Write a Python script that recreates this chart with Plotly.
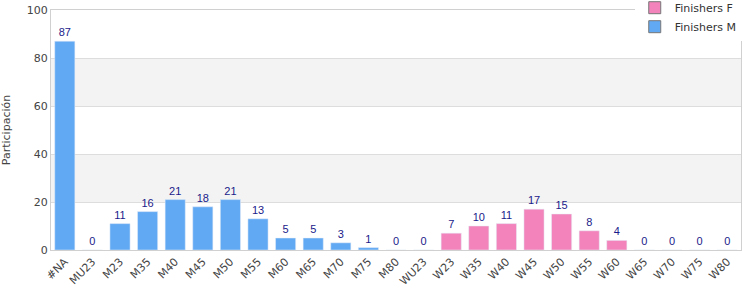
import plotly.graph_objects as go

categories = ["#NA", "MU23", "M23", "M35", "M40", "M45", "M50", "M55", "M60", "M65",
              "M70", "M75", "M80", "WU23", "W23", "W35", "W40", "W45", "W50", "W55",
              "W60", "W65", "W70", "W75", "W80"]
male_values = [87, 0, 11, 16, 21, 18, 21, 13, 5, 5, 3, 1, 0, None, None, None, None,
               None, None, None, None, None, None, None, None]
female_values = [None, None, None, None, None, None, None, None, None, None, None, None,
                 None, 0, 7, 10, 11, 17, 15, 8, 4, 0, 0, 0, 0]
y_ticks = [0, 20, 40, 60, 80, 100]

blue = "#62a9f4"
pink = "#f283bb"
label_color = "#1a1a8a"

fig = go.Figure()
fig.add_trace(go.Bar(x=categories, y=male_values, name="Finishers M", marker_color=blue,
                     text=[("" if v is None else str(v)) for v in male_values],
                     textposition="outside", cliponaxis=False, showlegend=False,
                     textfont=dict(color=label_color, size=11, family="Liberation Sans, Arial")))
fig.add_trace(go.Bar(x=categories, y=female_values, name="Finishers F", marker_color=pink,
                     text=[("" if v is None else str(v)) for v in female_values],
                     textposition="outside", cliponaxis=False, showlegend=False,
                     textfont=dict(color=label_color, size=11, family="Liberation Sans, Arial")))
# legend-only entries
fig.add_trace(go.Bar(x=[None], y=[None], name="Finishers F",
                     marker=dict(color=pink, line=dict(color="#777", width=1)), legendrank=1))
fig.add_trace(go.Bar(x=[None], y=[None], name="Finishers M",
                     marker=dict(color=blue, line=dict(color="#777", width=1)), legendrank=2))

for y0, y1 in [(20, 40), (60, 80)]:
    fig.add_shape(type="rect", xref="paper", yref="y", x0=0, x1=1, y0=y0, y1=y1,
                  fillcolor="#f3f3f3", line_width=0, layer="below")

fig.update_layout(
    width=750, height=300,
    margin=dict(l=51, r=9, t=10, b=50, autoexpand=False),
    barmode="overlay", bargap=0.27,
    plot_bgcolor="white", paper_bgcolor="white",
    font=dict(family="DejaVu Sans, Arial", size=11, color="#444"),
    legend=dict(x=0.846, xanchor="left", y=1.07, yanchor="top",
                bgcolor="white", borderwidth=0, font=dict(size=11, color="#333"),
                tracegroupgap=0, itemwidth=30, traceorder="normal"),
)
fig.update_yaxes(range=[0, 100], tickvals=y_ticks, showgrid=True, gridcolor="#dddddd",
                 showline=True, linecolor="#d0d0d0", mirror=True, zeroline=False,
                 title=dict(text="Participación", font=dict(size=11, color="#444"), standoff=14),
                 tickfont=dict(size=11, color="#444"), ticks="")
fig.update_xaxes(tickangle=-45, showline=True, linecolor="#d0d0d0", mirror=True,
                 tickfont=dict(size=11, color="#444"), ticks="")

fig.write_html("out.html")
